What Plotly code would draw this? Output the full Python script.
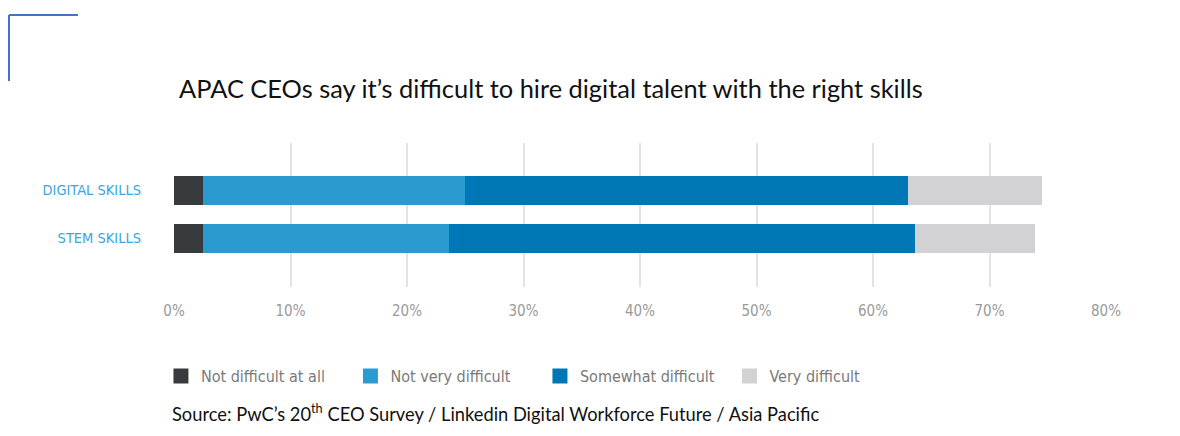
import plotly.graph_objects as go

categories = ["DIGITAL SKILLS", "STEM SKILLS"]
series_names = ["Not difficult at all", "Not very difficult", "Somewhat difficult", "Very difficult"]
not_difficult = [2.6, 2.6]
not_very_difficult = [22.5, 21.1]
somewhat_difficult = [38.0, 40.0]
very_difficult = [11.3, 10.1]
colors = ["#383b3d", "#2a9bd1", "#0077b5", "#d2d2d4"]
tick_vals = [0, 10, 20, 30, 40, 50, 60, 70, 80]
tick_text = ["0%", "10%", "20%", "30%", "40%", "50%", "60%", "70%", "80%"]

values = [not_difficult, not_very_difficult, somewhat_difficult, very_difficult]

fig = go.Figure()
for name, vals, col in zip(series_names, values, colors):
    fig.add_trace(go.Bar(
        y=categories, x=vals, name=name, orientation="h",
        marker=dict(color=col, line=dict(width=3, color=col)), width=0.54,
    ))

narrow = "Liberation Sans Narrow, DejaVu Sans Condensed, Roboto, sans-serif"

fig.update_layout(
    barmode="stack",
    width=1180, height=436,
    margin=dict(l=174, r=74, t=143, b=149),
    paper_bgcolor="white", plot_bgcolor="white",
    showlegend=True,
    legend=dict(orientation="h", x=-0.014, xanchor="left", y=-0.50, yanchor="top",
                font=dict(family=narrow, size=16, color="#7a7a7a"),
                traceorder="normal", itemwidth=30,
                entrywidth=144.5, entrywidthmode="pixels"),
    xaxis=dict(range=[0, 80], tickvals=tick_vals, ticktext=tick_text,
               showgrid=True, gridcolor="#e3e3e3", gridwidth=1.5, zeroline=False,
               showline=False, ticks="", ticklabelstandoff=13,
               tickfont=dict(family=narrow, size=15, color="#9a9a9a")),
    yaxis=dict(type="category", categoryarray=categories, range=[2.02, -0.98],
               showgrid=False, zeroline=False, showline=False, ticks="",
               ticklabelstandoff=32,
               tickfont=dict(family=narrow, size=14.5, color="#3aa6dc")),
    annotations=[
        dict(text="APAC CEOs say it’s difficult to hire digital talent with the right skills",
             xref="paper", yref="paper", x=(551 - 174) / 932, y=(287 - 88) / 144,
             xanchor="center", yanchor="middle", showarrow=False,
             font=dict(family="Lato, Open Sans, sans-serif", size=25.4, color="#111111")),
        dict(text="Source: PwC’s 20<sup>th</sup> CEO Survey / Linkedin Digital Workforce Future / Asia Pacific",
             xref="paper", yref="paper", x=(170 - 174) / 932, y=(287 - 412) / 144,
             xanchor="left", yanchor="middle", showarrow=False,
             font=dict(family="Lato, Open Sans, sans-serif", size=18.3, color="#111111")),
    ],
    shapes=[
        dict(type="line", xref="paper", yref="paper",
             x0=(9 - 174) / 932, x1=(78 - 174) / 932, y0=(287 - 15) / 144, y1=(287 - 15) / 144,
             line=dict(color="#4472c4", width=2)),
        dict(type="line", xref="paper", yref="paper",
             x0=(9 - 174) / 932, x1=(9 - 174) / 932, y0=(287 - 15) / 144, y1=(287 - 81) / 144,
             line=dict(color="#4472c4", width=2)),
    ],
)

fig.write_html("out.html", config={"displayModeBar": False},
               post_script="document.body.style.margin='0';")
